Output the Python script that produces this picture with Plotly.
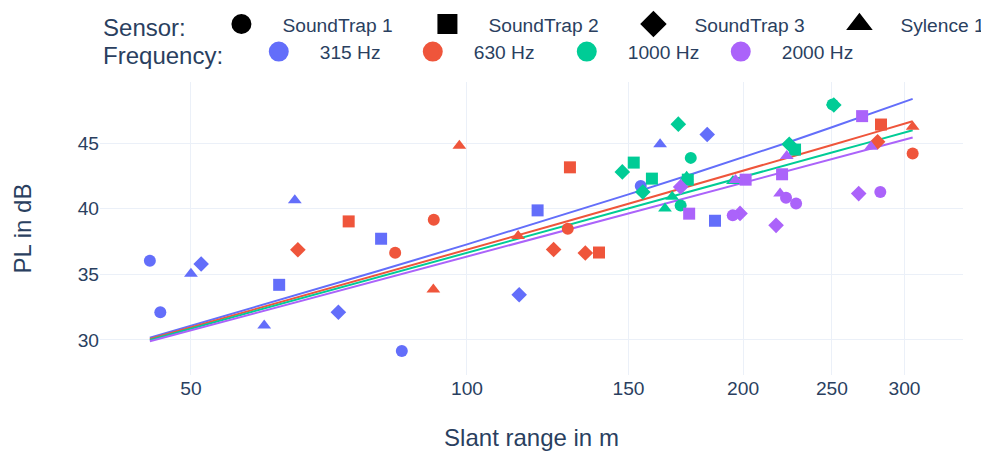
import plotly.graph_objects as go

sensors = ["SoundTrap 1", "SoundTrap 2", "SoundTrap 3", "Sylence 1"]
symbols = ["circle", "square", "diamond", "triangle-up"]
freqs = ["315 Hz", "630 Hz", "1000 Hz", "2000 Hz"]
colors = ["#636EFA", "#EF553B", "#00CC96", "#AB63FA"]

# 315 Hz
r_315 = [45.1, 46.3, 84.9, 154.7, 62.4, 80.6, 119.4, 186.4, 51.3, 72.4, 114.0, 182.8, 50.0, 60.1, 64.9, 162.4]
pl_315 = [36.03, 32.11, 29.16, 41.73, 34.2, 37.71, 39.87, 39.08, 35.78, 32.11, 33.44, 45.65, 35.05, 31.11, 40.65, 44.9]
s_315 = [0, 0, 0, 0, 1, 1, 1, 1, 2, 2, 2, 2, 3, 3, 3, 3]

# 630 Hz
r_630 = [83.5, 92.0, 128.8, 306.2, 74.3, 129.5, 139.3, 282.8, 65.4, 124.3, 134.6, 280.4, 91.9, 98.1, 113.7, 306.2]
pl_630 = [36.64, 39.16, 38.47, 44.2, 39.03, 43.15, 36.66, 46.41, 36.87, 36.89, 36.62, 45.09, 33.85, 44.79, 37.92, 46.24]
s_630 = [0, 0, 0, 0, 1, 1, 1, 1, 2, 2, 2, 2, 3, 3, 3, 3]

# 1000 Hz
r_1000 = [171.0, 175.4, 250.4, 152.0, 159.1, 174.1, 227.9, 147.7, 155.5, 170.0, 224.6, 251.2, 164.4, 167.4, 173.6, 195.0]
pl_1000 = [40.25, 43.87, 47.94, 43.51, 42.29, 42.21, 44.5, 42.8, 41.27, 46.44, 44.91, 47.9, 40.02, 40.9, 42.43, 42.1]
s_1000 = [0, 0, 0, 1, 1, 1, 1, 2, 2, 2, 2, 2, 3, 3, 3, 3]

# 2000 Hz
r_2000 = [194.9, 222.8, 228.5, 282.3, 174.7, 201.3, 220.6, 269.7, 171.0, 198.5, 217.3, 267.4, 196.3, 219.5, 223.2, 275.8]
pl_2000 = [39.49, 40.84, 40.4, 41.27, 39.62, 42.21, 42.62, 47.05, 41.66, 39.64, 38.73, 41.15, 42.18, 41.16, 44.01, 44.72]
s_2000 = [0, 0, 0, 0, 1, 1, 1, 1, 2, 2, 2, 2, 3, 3, 3, 3]

# fitted curves
r_fit = [45.1, 60, 80, 100, 125, 150, 175, 200, 225, 250, 275, 306.2]
fit_315 = [30.17, 32.68, 35.25, 37.28, 39.35, 41.09, 42.59, 43.91, 45.10, 46.2, 47.2, 48.36]
fit_630 = [30.08, 32.51, 34.96, 36.87, 38.79, 40.37, 41.71, 42.88, 43.92, 44.85, 45.7, 46.66]
fit_1000 = [30.0, 32.39, 34.78, 36.64, 38.5, 40.02, 41.31, 42.42, 43.4, 44.28, 45.07, 45.97]
fit_2000 = [29.9, 32.22, 34.55, 36.35, 38.16, 39.64, 40.89, 41.97, 42.92, 43.77, 44.54, 45.42]

x_ticks = [50, 100, 150, 200, 250, 300]
y_ticks = [30, 35, 40, 45]

data_r = [r_315, r_630, r_1000, r_2000]
data_pl = [pl_315, pl_630, pl_1000, pl_2000]
data_s = [s_315, s_630, s_1000, s_2000]
fits = [fit_315, fit_630, fit_1000, fit_2000]

fig = go.Figure()

for fi in range(4):
    fig.add_trace(go.Scatter(x=r_fit, y=fits[fi], mode="lines",
                             line=dict(color=colors[fi], width=2),
                             showlegend=False, hoverinfo="skip"))

draw_order = [2, 1, 3, 0]
for fi in range(4):
    for si in draw_order:
        xs = [r for r, s in zip(data_r[fi], data_s[fi]) if s == si]
        ys = [p for p, s in zip(data_pl[fi], data_s[fi]) if s == si]
        fig.add_trace(go.Scatter(x=xs, y=ys, mode="markers",
                                 marker=dict(color=colors[fi], symbol=symbols[si], size=12),
                                 showlegend=False))

# legend entries
for si in range(4):
    fig.add_trace(go.Scatter(x=[None], y=[None], mode="markers", name=sensors[si] + "\u00a0",
                             marker=dict(color="black", symbol=symbols[si], size=16,
                                         line=dict(color="black", width=4)),
                             legend="legend"))
for fi in range(4):
    fig.add_trace(go.Scatter(x=[None], y=[None], mode="markers", name=freqs[fi],
                             marker=dict(color=colors[fi], symbol="circle", size=16,
                                         line=dict(color=colors[fi], width=4)),
                             legend="legend2"))

font_family = "Liberation Sans, Arial, sans-serif"
fig.update_layout(
    template="plotly_white",
    width=981, height=446,
    margin=dict(l=92, r=26, t=74, b=79, autoexpand=False),
    font=dict(family=font_family, size=19.2, color="#2a3f5f"),
    legend=dict(title=dict(text="Sensor:\u00a0", font=dict(size=24)), orientation="h",
                x=0.0012, xanchor="left", y=1.191, yanchor="middle",
                itemwidth=72, entrywidth=119, font=dict(size=19.2),
                bgcolor="rgba(0,0,0,0)"),
    legend2=dict(title=dict(text="Frequency:\u00a0", font=dict(size=24)), orientation="h",
                 x=0.0012, xanchor="left", y=1.097, yanchor="middle",
                 itemwidth=72, entrywidth=67, font=dict(size=19.2),
                 bgcolor="rgba(0,0,0,0)"),
)
fig.update_xaxes(type="log", range=[1.5998, 2.5409], tickvals=x_ticks,
                 ticktext=[str(v) for v in x_ticks],
                 title=dict(text="Slant range in m", font=dict(size=24), standoff=30),
                 showline=False, zeroline=False)
fig.update_yaxes(range=[27.33, 49.65], tickvals=y_ticks,
                 title=dict(text="PL in dB", font=dict(size=24), standoff=39),
                 showline=False, zeroline=False)

fig.write_html("out.html")
